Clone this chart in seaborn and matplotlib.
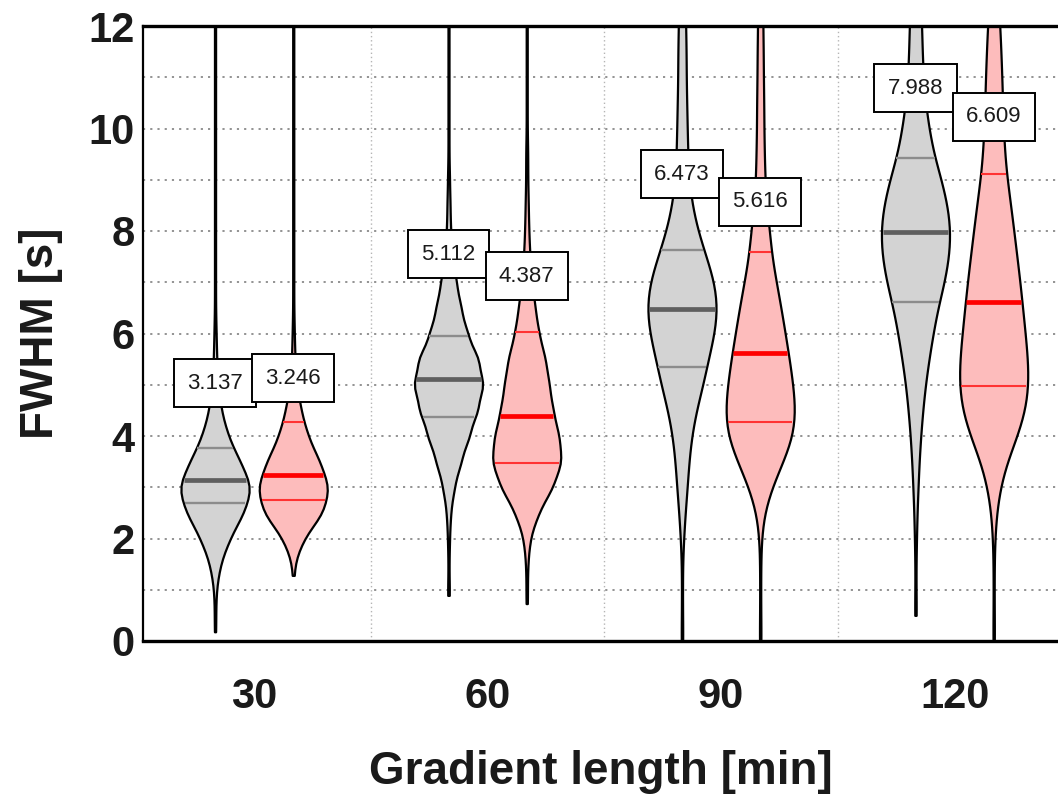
import numpy as np
import pandas as pd
import matplotlib
matplotlib.use("Agg")
import matplotlib.pyplot as plt
from matplotlib.collections import PolyCollection
import seaborn as sns

# ---------------- data ----------------
GRADIENTS = ["30", "60", "90", "120"]
SERIES = ["Grey", "Red"]

# y levels at which the violin width profile was read (FWHM, s)
LEVELS = [0.0, 0.5, 1.0, 1.5, 2.0, 2.5, 3.0, 3.5, 4.0, 4.5, 5.0, 5.5, 6.0, 6.5,
          7.0, 7.5, 8.0, 8.5, 9.0, 9.5, 10.0, 10.5, 11.0, 11.5, 12.0, 12.5, 13.0]

# relative violin widths (density) read at each level
GREY_30  = [0, 1, 2, 9, 26, 52, 68, 45, 23, 11, 5, 3, 2, 1, 1, 1, 1, 1, 1, 1, 1, 1, 1, 1, 1, 1, 1]
RED_30   = [0, 0, 0, 1, 18, 55, 66, 48, 26, 14, 6, 3, 2, 1, 1, 1, 1, 1, 1, 1, 1, 1, 1, 1, 1, 1, 1]
GREY_60  = [0, 0, 1, 1, 2, 4, 11, 24, 40, 56, 68, 58, 36, 24, 15, 8, 4, 3, 2, 1, 1, 1, 1, 1, 1, 1, 1]
RED_60   = [0, 0, 1, 2, 6, 22, 50, 68, 62, 50, 43, 36, 23, 16, 10, 6, 4, 3, 2, 2, 1, 1, 1, 1, 1, 1, 1]
GREY_90  = [1, 1, 1, 1, 3, 6, 10, 13, 18, 27, 40, 50, 62, 68, 62, 46, 30, 19, 13, 11, 10, 9, 8, 8, 7, 6, 5]
RED_90   = [1, 1, 1, 1, 2, 7, 22, 44, 64, 68, 63, 56, 48, 40, 31, 22, 18, 12, 9, 8, 7, 7, 6, 6, 5, 5, 4]
GREY_120 = [0, 1, 1, 1, 2, 3, 5, 7, 10, 14, 19, 26, 34, 43, 56, 65, 68, 62, 50, 35, 26, 19, 15, 13, 12, 10, 8]
RED_120  = [1, 1, 1, 1, 2, 5, 12, 25, 46, 62, 68, 66, 61, 56, 51, 45, 39, 33, 26, 21, 19, 17, 16, 14, 12, 9, 6]

# lowest observed value of each violin
MIN_GREY = [0.18, 0.89, 0.0, 0.50]
MIN_RED = [1.28, 0.73, 0.0, 0.0]

# medians (printed in the boxes) and quartiles
MEDIAN_GREY = [3.137, 5.112, 6.473, 7.988]
MEDIAN_RED = [3.246, 4.387, 5.616, 6.609]
Q1_GREY = [2.69, 4.38, 5.34, 6.62]
Q3_GREY = [3.76, 5.95, 7.62, 9.42]
Q1_RED = [2.75, 3.47, 4.28, 4.98]
Q3_RED = [4.28, 6.03, 7.60, 9.12]

# vertical position of the median labels
LABEL_Y_GREY = [5.03, 7.55, 9.11, 10.79]
LABEL_Y_RED = [5.13, 7.12, 8.57, 10.23]

# ---------------- build the long table ----------------
profiles = {"Grey": [GREY_30, GREY_60, GREY_90, GREY_120],
            "Red": [RED_30, RED_60, RED_90, RED_120]}
mins = {"Grey": MIN_GREY, "Red": MIN_RED}
rows = []
for s in SERIES:
    for i, g in enumerate(GRADIENTS):
        vals = list(np.repeat(LEVELS, profiles[s][i])) + [mins[s][i]]
        rows += [(g, s, v) for v in vals]
df = pd.DataFrame(rows, columns=["gradient", "series", "fwhm"])

# ---------------- styling ----------------
sns.set_theme(style="white")
plt.rcParams["font.family"] = ["Liberation Sans", "DejaVu Sans"]

GREY_FILL = "#d3d3d3"
RED_FILL = "#fdbcbc"
PALETTE = {"Grey": GREY_FILL, "Red": RED_FILL}
TEXT = "#1a1a1a"

fig = plt.figure(figsize=(10.58, 8.02), dpi=100)
ax = fig.add_axes([143 / 1058, 161 / 802, 915 / 1058, 615 / 802])

sns.violinplot(data=df, x="gradient", y="fwhm", hue="series",
               order=GRADIENTS, hue_order=SERIES, palette=PALETTE,
               inner=None, cut=0, density_norm="width", width=0.67, gap=0.13,
               bw_method=0.17, linewidth=1.6, linecolor="black",
               saturation=1, legend=False, ax=ax)

ax.set_xlim(-0.476, 3.443)
ax.set_ylim(0, 12)

# grid
ax.set_yticks(range(0, 13, 2))
ax.set_yticks(range(1, 12), minor=True)
ax.set_xticks(range(len(GRADIENTS)))
ax.set_xticks([0.5, 1.5, 2.5], minor=True)
ax.yaxis.grid(True, which="minor", linestyle=(0, (1.2, 2.8)), color="#8a8a8a", linewidth=1.3)
ax.yaxis.grid(True, which="major", linestyle=(0, (1.2, 2.8)), color="#8a8a8a", linewidth=1.3)
ax.xaxis.grid(True, which="minor", linestyle=(0, (1, 2)), color="#b5b5b5", linewidth=1.0)
ax.xaxis.grid(False, which="major")
ax.set_axisbelow(True)

# median / quartile lines inside each violin
polys = [c for c in ax.collections if isinstance(c, PolyCollection)]
centers = []
for p in polys:
    v = p.get_paths()[0].vertices
    centers.append(((v[:, 0].min() + v[:, 0].max()) / 2, v))
centers.sort(key=lambda t: t[0])


def half_width(verts, cx, y):
    right = verts[verts[:, 0] > cx]
    order = np.argsort(right[:, 1])
    return np.interp(y, right[order, 1], right[order, 0]) - cx


for k, (cx, verts) in enumerate(centers):
    i, j = divmod(k, 2)
    if j == 0:
        med, q1, q3, ly = MEDIAN_GREY[i], Q1_GREY[i], Q3_GREY[i], LABEL_Y_GREY[i]
        mcol, qcol, mlw, qlw = "#5f5f5f", "#8c8c8c", 3.4, 1.7
    else:
        med, q1, q3, ly = MEDIAN_RED[i], Q1_RED[i], Q3_RED[i], LABEL_Y_RED[i]
        mcol, qcol, mlw, qlw = "#ff0000", "#ff3333", 3.4, 1.5
    for y, col, lw in [(q1, qcol, qlw), (q3, qcol, qlw), (med, mcol, mlw)]:
        hw = half_width(verts, cx, y) * 0.96
        ax.plot([cx - hw, cx + hw], [y, y], color=col, lw=lw,
                solid_capstyle="butt", zorder=3)
    ax.text(cx, ly, f"{med:.3f}", ha="center", va="center", fontsize=16,
            color=TEXT, zorder=6,
            bbox=dict(boxstyle="square,pad=0.6", fc="white", ec="black", lw=1.4))

# axes decoration
ax.set_xticklabels(GRADIENTS)
ax.tick_params(axis="x", which="both", length=0, pad=26, labelsize=30, labelcolor=TEXT)
ax.tick_params(axis="y", which="both", length=0, pad=6, labelsize=30, labelcolor=TEXT)
for lab in ax.get_xticklabels() + ax.get_yticklabels():
    lab.set_fontweight("bold")

ax.set_xlabel("Gradient length [min]", fontsize=33, fontweight="bold", color=TEXT, labelpad=24)
ax.set_ylabel("FWHM [s]", fontsize=33, fontweight="bold", color=TEXT, labelpad=18)

for side in ["left", "bottom", "top", "right"]:
    ax.spines[side].set_color("black")
ax.spines["right"].set_visible(False)
ax.spines["left"].set_linewidth(1.6)
ax.spines["bottom"].set_linewidth(2.4)
ax.spines["top"].set_linewidth(2.4)

fig.savefig("out.png", dpi=100)
